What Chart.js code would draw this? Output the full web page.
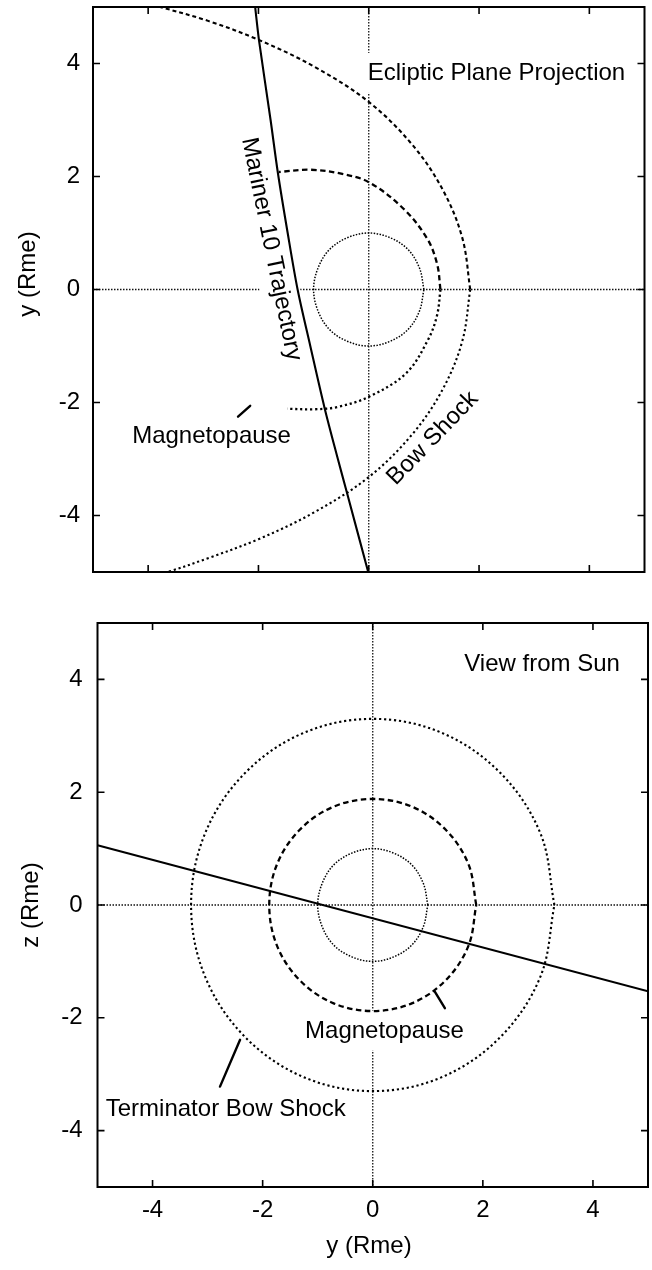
<!DOCTYPE html>
<html>
<head>
<meta charset="utf-8">
<script src="https://cdn.jsdelivr.net/npm/chart.js@4.4.1/dist/chart.umd.min.js"></script>
<style>
  html, body { margin: 0; padding: 0; background: #fff; }
  #wrap { position: relative; width: 652px; height: 1270px; overflow: hidden; background: #fff; }
  canvas { position: absolute; left: 0; }
  #ecliptic { top: 0; }
  #sunview { top: 600px; }
</style>
</head>
<body>
<div id="wrap">
  <canvas id="ecliptic" width="652" height="600"></canvas>
  <canvas id="sunview" width="652" height="670"></canvas>
</div>
<script>
// ---- axis ticks (both panels, both axes) ----
const tickValues = [-4, -2, 0, 2, 4];

// ---- Mercury outline, radius 1 Rme ----
const planetX = [1, 0.92, 0.71, 0.38, 0, -0.38, -0.71, -0.92, -1, -0.92, -0.71, -0.38, 0, 0.38, 0.71, 0.92, 1];
const planetY = [0, 0.38, 0.71, 0.92, 1, 0.92, 0.71, 0.38, 0, -0.38, -0.71, -0.92, -1, -0.92, -0.71, -0.38, 0];

// ---- Ecliptic plane projection ----
// Mariner 10 flyby path
const trajEclX = [-2.06, -1.99, -1.78, -1.65, -1.47, -1.29, -1.06, -0.80, -0.56, -0.40, -0.01];
const trajEclY = [5.00, 4.41, 3.00, 2.08, 1.00, 0.00, -1.00, -2.10, -3.00, -3.58, -5.00];
// magnetopause, dusk (+y) and dawn (-y) halves
const mpDuskX = [1.30, 1.24, 1.06, 0.63, 0.00, -0.50, -1.06, -1.63];
const mpDuskY = [0.00, 0.45, 0.90, 1.43, 1.90, 2.05, 2.12, 2.08];
const mpDawnX = [1.30, 1.24, 1.08, 0.68, 0.00, -0.57, -1.00, -1.48];
const mpDawnY = [0.00, -0.45, -0.88, -1.48, -1.90, -2.08, -2.12, -2.11];
// bow shock, dusk and dawn halves
const bsDuskX = [1.84, 1.70, 1.35, 0.80, 0.00, -1.00, -2.00, -2.90, -3.78, -4.60];
const bsDuskY = [0.00, 0.90, 1.75, 2.55, 3.32, 3.95, 4.42, 4.75, 5.00, 5.22];
const bsDawnX = [1.84, 1.70, 1.35, 0.80, 0.00, -1.00, -2.00, -2.90, -3.65, -4.50];
const bsDawnY = [0.00, -0.90, -1.75, -2.55, -3.32, -3.95, -4.42, -4.75, -5.00, -5.22];

// ---- View from Sun (terminator plane) ----
const trajSunX = [-5, 5];
const trajSunY = [1.06, -1.53];
// magnetopause cross-section at the terminator
const mpTermX = [1.88, 1.74, 1.33, 0.72, 0, -0.72, -1.33, -1.74, -1.88, -1.74, -1.33, -0.72, 0, 0.72, 1.33, 1.74, 1.88];
const mpTermY = [0, 0.72, 1.33, 1.74, 1.88, 1.74, 1.33, 0.72, 0, -0.72, -1.33, -1.74, -1.88, -1.74, -1.33, -0.72, 0];
// bow shock cross-section at the terminator
const bsTermX = [3.30, 3.05, 2.33, 1.26, 0, -1.26, -2.33, -3.05, -3.30, -3.05, -2.33, -1.26, 0, 1.26, 2.33, 3.05, 3.30];
const bsTermY = [0, 1.26, 2.33, 3.05, 3.30, 3.05, 2.33, 1.26, 0, -1.26, -2.33, -3.05, -3.30, -3.05, -2.33, -1.26, 0];

const FAMILY = '"Liberation Sans", Arial, Helvetica, sans-serif';
const FONT = '24px ' + FAMILY;
Chart.defaults.font.family = FAMILY;
Chart.defaults.color = '#000';

const pts = (xs, ys) => xs.map((x, i) => ({ x, y: ys[i] }));

function curve(xs, ys, width, dash, tension) {
  return {
    data: pts(xs, ys),
    showLine: true,
    borderColor: '#000',
    backgroundColor: '#000',
    borderWidth: width,
    borderDash: dash,
    tension: tension,
    pointRadius: 0,
    pointHoverRadius: 0,
    fill: false
  };
}

const SOLID = [];
const DASHED = [5.5, 3.5];
const SHORTDASH = [4, 3];
const DOTTED = [2.2, 2.8];
const FINEDOT = [1.5, 1.5];

// Decorations drawn on top of the library's plot: zero axes, inward ticks,
// frame, annotation text and leader lines.
function decor(spec) {
  const textBox = (ctx, l) => {
    ctx.font = FONT;
    const w = ctx.measureText(l.text).width;
    const x0 = l.align === 'right' ? -w : 0;
    return { x: x0 - 9, y: -27, w: w + 18, h: 40 };
  };
  return {
    id: 'decor_' + spec.name,
    beforeDatasetsDraw(chart) {
      const { ctx, chartArea: a, scales: { x, y } } = chart;
      ctx.save();
      ctx.beginPath();
      ctx.rect(a.left, a.top, a.right - a.left, a.bottom - a.top);
      ctx.clip();
      const x0 = x.getPixelForValue(0), y0 = y.getPixelForValue(0);
      ctx.strokeStyle = '#111';
      ctx.lineWidth = 1.3;
      ctx.setLineDash([1.5, 1.5]);
      ctx.beginPath();
      ctx.moveTo(a.left, y0); ctx.lineTo(a.right, y0);
      ctx.moveTo(x0, a.top); ctx.lineTo(x0, a.bottom);
      ctx.stroke();
      ctx.setLineDash([]);
      // white backing behind labels that sit on the axes
      ctx.fillStyle = '#fff';
      spec.labels.filter(l => l.box).forEach(l => {
        const b = textBox(ctx, l);
        ctx.save();
        ctx.translate(x.getPixelForValue(l.x), y.getPixelForValue(l.y));
        ctx.rotate((l.rot || 0) * Math.PI / 180);
        ctx.fillRect(b.x, b.y, b.w, b.h);
        ctx.restore();
      });
      ctx.restore();
    },
    afterDatasetsDraw(chart) {
      const { ctx, chartArea: a, scales: { x, y } } = chart;
      ctx.save();
      ctx.fillStyle = '#000';
      ctx.strokeStyle = '#000';
      ctx.font = FONT;
      ctx.textBaseline = 'alphabetic';
      // annotation text
      spec.labels.forEach(l => {
        ctx.save();
        ctx.translate(x.getPixelForValue(l.x), y.getPixelForValue(l.y));
        ctx.rotate((l.rot || 0) * Math.PI / 180);
        ctx.textAlign = l.align || 'left';
        ctx.fillText(l.text, 0, 0);
        ctx.restore();
      });
      // leader lines
      ctx.lineWidth = 2.4;
      ctx.lineCap = 'round';
      spec.leaders.forEach(p => {
        ctx.beginPath();
        ctx.moveTo(x.getPixelForValue(p[0]), y.getPixelForValue(p[1]));
        ctx.lineTo(x.getPixelForValue(p[2]), y.getPixelForValue(p[3]));
        ctx.stroke();
      });
      ctx.lineCap = 'butt';
      // inward tick marks on all four sides
      const tl = 7;
      ctx.lineWidth = 1.6;
      ctx.beginPath();
      tickValues.forEach(v => {
        const px = x.getPixelForValue(v), py = y.getPixelForValue(v);
        ctx.moveTo(px, a.bottom); ctx.lineTo(px, a.bottom - tl);
        ctx.moveTo(px, a.top); ctx.lineTo(px, a.top + tl);
        ctx.moveTo(a.left, py); ctx.lineTo(a.left + tl, py);
        ctx.moveTo(a.right, py); ctx.lineTo(a.right - tl, py);
      });
      ctx.stroke();
      // frame
      ctx.lineWidth = 2;
      ctx.strokeRect(a.left, a.top, a.right - a.left, a.bottom - a.top);
      // axis titles
      spec.titles.forEach(t => {
        ctx.save();
        ctx.translate(t.px, t.py);
        ctx.rotate((t.rot || 0) * Math.PI / 180);
        ctx.textAlign = 'center';
        ctx.fillText(t.text, 0, 0);
        ctx.restore();
      });
      ctx.restore();
    }
  };
}

function axes(opt) {
  const fixTicks = s => { s.ticks = tickValues.map(v => ({ value: v })); };
  return {
    x: {
      type: 'linear', position: 'bottom', min: -5, max: 5,
      afterBuildTicks: fixTicks,
      grid: { display: false, drawTicks: false },
      border: { display: false },
      ticks: { display: opt.xLabels, font: { size: 24 }, color: '#000', padding: opt.xPad },
      afterFit: s => { s.height = opt.xHeight; s.paddingLeft = 0; s.paddingRight = 0; }
    },
    y: {
      type: 'linear', position: 'left', min: -5, max: 5,
      afterBuildTicks: fixTicks,
      grid: { display: false, drawTicks: false },
      border: { display: false },
      ticks: { display: true, font: { size: 24 }, color: '#000', padding: opt.yPad },
      afterFit: s => { s.width = opt.yWidth; s.paddingTop = 0; s.paddingBottom = 0; }
    }
  };
}

const common = {
  responsive: false,
  animation: false,
  devicePixelRatio: 1,
  events: [],
  plugins: { legend: { display: false }, tooltip: { enabled: false } }
};

// ---- upper panel: ecliptic plane projection ----
new Chart(document.getElementById('ecliptic'), {
  type: 'scatter',
  data: {
    datasets: [
      curve(planetX, planetY, 1.5, FINEDOT, 0.35),
      curve(mpDuskX, mpDuskY, 2.3, DASHED, 0.35),
      curve(mpDawnX, mpDawnY, 2.3, DOTTED, 0.35),
      curve(bsDuskX, bsDuskY, 2.1, SHORTDASH, 0.35),
      curve(bsDawnX, bsDawnY, 2.1, DOTTED, 0.35),
      curve(trajEclX, trajEclY, 2.1, SOLID, 0.3)
    ]
  },
  options: Object.assign({}, common, {
    layout: { padding: { left: 0, right: 7.5, top: 7, bottom: 0 } },
    scales: axes({ xLabels: false, xHeight: 28, xPad: 0, yWidth: 93, yPad: 13 })
  }),
  plugins: [decor({
    name: 'ecliptic',
    labels: [
      { text: 'Ecliptic Plane Projection', x: 4.65, y: 3.71, align: 'right', box: true },
      { text: 'Mariner 10 Trajectory', x: -2.30, y: 2.66, rot: 78.4, box: true },
      { text: 'Bow Shock', x: 0.49, y: -3.48, rot: -46 },
      { text: 'Magnetopause', x: -4.29, y: -2.72 }
    ],
    leaders: [[-2.37, -2.25, -2.15, -2.06]],
    titles: [{ text: 'y (Rme)', px: 35, py: 274, rot: -90 }]
  })]
});

// ---- lower panel: view from the Sun ----
new Chart(document.getElementById('sunview'), {
  type: 'scatter',
  data: {
    datasets: [
      curve(planetX, planetY, 1.5, FINEDOT, 0.35),
      curve(mpTermX, mpTermY, 2.3, DASHED, 0.35),
      curve(bsTermX, bsTermY, 2.1, DOTTED, 0.35),
      curve(trajSunX, trajSunY, 2.1, SOLID, 0)
    ]
  },
  options: Object.assign({}, common, {
    layout: { padding: { left: 0, right: 4, top: 23, bottom: 0 } },
    scales: axes({ xLabels: true, xHeight: 83, xPad: 9, yWidth: 97.5, yPad: 15 })
  }),
  plugins: [decor({
    name: 'sun',
    labels: [
      { text: 'View from Sun', x: 4.49, y: 4.15, align: 'right', box: true },
      { text: 'Magnetopause', x: -1.23, y: -2.35, box: true },
      { text: 'Terminator Bow Shock', x: -4.85, y: -3.74 }
    ],
    leaders: [[1.13, -1.54, 1.31, -1.83], [-2.41, -2.39, -2.775, -3.22]],
    titles: [
      { text: 'z (Rme)', px: 38, py: 305, rot: -90 },
      { text: 'y (Rme)', px: 369, py: 653, rot: 0 }
    ]
  })]
});
</script>
</body>
</html>
